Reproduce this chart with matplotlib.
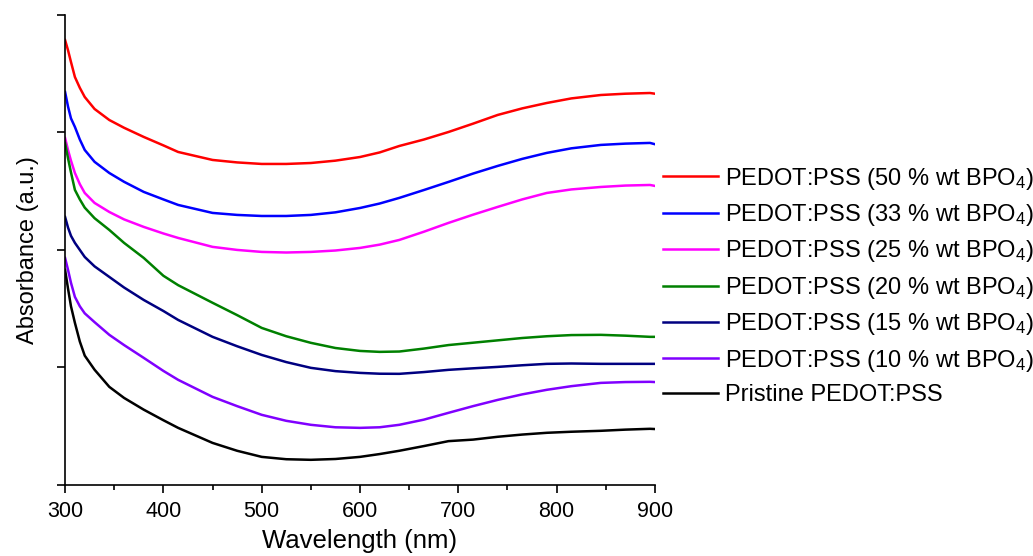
import matplotlib
matplotlib.use('Agg')
import matplotlib.pyplot as plt
from matplotlib.ticker import MultipleLocator, NullFormatter

plt.rcParams['font.family'] = ['Liberation Sans', 'DejaVu Sans']
plt.rcParams['mathtext.fontset'] = 'custom'
plt.rcParams['mathtext.rm'] = 'Liberation Sans'
plt.rcParams['mathtext.it'] = 'Liberation Sans'

wavelength = [300, 303, 306, 310, 315, 320, 330, 345, 360, 380, 400, 415, 450, 475, 500, 525,
              550, 575, 600, 620, 640, 665, 690, 715, 740, 765, 790, 815, 845, 870, 895, 900]

abs_50 = [3.787, 3.70, 3.60, 3.472, 3.38, 3.302, 3.20, 3.106, 3.04, 2.962, 2.89, 2.834, 2.766, 2.745, 2.732, 2.732,
          2.740, 2.76, 2.791, 2.83, 2.885, 2.94, 3.004, 3.075, 3.149, 3.205, 3.251, 3.29, 3.319, 3.33, 3.336, 3.33]
abs_33 = [3.345, 3.22, 3.12, 3.047, 2.94, 2.851, 2.75, 2.655, 2.58, 2.494, 2.43, 2.383, 2.315, 2.298, 2.289, 2.289,
          2.298, 2.32, 2.357, 2.395, 2.443, 2.51, 2.579, 2.65, 2.715, 2.775, 2.826, 2.865, 2.894, 2.905, 2.911, 2.90]
abs_25 = [2.953, 2.85, 2.76, 2.655, 2.56, 2.485, 2.40, 2.323, 2.26, 2.196, 2.14, 2.102, 2.026, 2.00, 1.983, 1.978,
          1.983, 1.995, 2.017, 2.045, 2.085, 2.155, 2.230, 2.30, 2.366, 2.43, 2.485, 2.515, 2.536, 2.548, 2.553, 2.545]
abs_20 = [2.911, 2.78, 2.66, 2.511, 2.43, 2.36, 2.27, 2.170, 2.06, 1.932, 1.78, 1.70, 1.55, 1.445, 1.336, 1.265,
          1.209, 1.165, 1.140, 1.132, 1.135, 1.16, 1.19, 1.21, 1.23, 1.25, 1.265, 1.275, 1.277, 1.27, 1.26, 1.26]
abs_15 = [2.281, 2.19, 2.12, 2.06, 2.00, 1.94, 1.86, 1.770, 1.68, 1.574, 1.48, 1.404, 1.260, 1.18, 1.106, 1.045,
          0.996, 0.968, 0.953, 0.946, 0.945, 0.96, 0.979, 0.992, 1.004, 1.018, 1.030, 1.033, 1.030, 1.030, 1.030, 1.03]
abs_10 = [1.932, 1.83, 1.72, 1.600, 1.52, 1.46, 1.385, 1.277, 1.19, 1.081, 0.97, 0.894, 0.749, 0.67, 0.596, 0.545,
          0.511, 0.49, 0.485, 0.49, 0.511, 0.555, 0.613, 0.67, 0.723, 0.77, 0.809, 0.84, 0.868, 0.875, 0.877, 0.875]
abs_0 = [1.830, 1.67, 1.52, 1.379, 1.22, 1.10, 0.98, 0.834, 0.74, 0.640, 0.55, 0.485, 0.357, 0.29, 0.238, 0.218,
         0.213, 0.22, 0.238, 0.262, 0.29, 0.33, 0.372, 0.385, 0.409, 0.428, 0.443, 0.452, 0.460, 0.47, 0.477, 0.475]

series = [abs_50, abs_33, abs_25, abs_20, abs_15, abs_10, abs_0]
labels = ['PEDOT:PSS (50 % wt BPO$_4$)',
          'PEDOT:PSS (33 % wt BPO$_4$)',
          'PEDOT:PSS (25 % wt BPO$_4$)',
          'PEDOT:PSS (20 % wt BPO$_4$)',
          'PEDOT:PSS (15 % wt BPO$_4$)',
          'PEDOT:PSS (10 % wt BPO$_4$)',
          'Pristine PEDOT:PSS']
colors = ['#FF0000', '#0000FF', '#FF00FF', '#008000', '#000080', '#8000FF', '#000000']

fig = plt.figure(figsize=(10.33, 5.56), dpi=100)
ax = fig.add_axes([0.063, 0.128, 0.571, 0.845])

for values, label, color in zip(series, labels, colors):
    ax.plot(wavelength, values, color=color, lw=1.8, label=label)

ax.set_xlim(300, 900)
ax.set_ylim(0, 4)
ax.xaxis.set_major_locator(MultipleLocator(100))
ax.xaxis.set_minor_locator(MultipleLocator(50))
ax.yaxis.set_major_locator(MultipleLocator(1))
ax.yaxis.set_major_formatter(NullFormatter())

for side in ['top', 'right']:
    ax.spines[side].set_visible(False)
for side in ['left', 'bottom']:
    ax.spines[side].set_linewidth(1.2)

ax.tick_params(axis='both', which='major', direction='out', length=6, width=1.2, labelsize=15.5, pad=6)
ax.tick_params(axis='x', which='minor', direction='out', length=3.5, width=1.2)

ax.set_xlabel('Wavelength (nm)', fontsize=18.5, labelpad=5)
ax.set_ylabel('Absorbance (a.u.)', fontsize=17, labelpad=7)

fig.legend(loc='center left', bbox_to_anchor=(0.642, 0.486), frameon=False, fontsize=17,
           handlelength=2.33, handletextpad=0.3, labelspacing=0.44, borderpad=0, borderaxespad=0)

fig.savefig('out.png', dpi=100)
